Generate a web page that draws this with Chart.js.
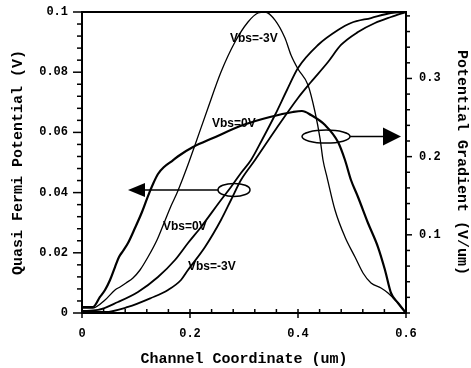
<!DOCTYPE html>
<html>
<head>
<meta charset="utf-8">
<script src="https://cdn.jsdelivr.net/npm/chart.js@4/dist/chart.umd.min.js"></script>
<style>
  html, body { margin: 0; padding: 0; background: #fff; }
  #c { display: block; }
</style>
</head>
<body>
<canvas id="c" width="471" height="368"></canvas>
<script>
// ---------- DATA ----------
// Potential gradient (V/um), right axis
const gradVbs0X  = [0, 0.0204, 0.0333, 0.0426, 0.0519, 0.0611, 0.0685, 0.0759, 0.0852, 0.0981, 0.1111, 0.1222, 0.1315, 0.1407, 0.1519, 0.1667, 0.1815, 0.2056, 0.2426, 0.2981, 0.3481, 0.3907, 0.4074, 0.4241, 0.45, 0.4741, 0.487, 0.4981, 0.5111, 0.5296, 0.5481, 0.5611, 0.5722, 0.5852, 0.6];
const gradVbs0Y  = [0.0077, 0.0077, 0.0205, 0.0294, 0.0422, 0.0588, 0.0716, 0.0793, 0.0895, 0.1087, 0.1292, 0.1496, 0.165, 0.1778, 0.1867, 0.1944, 0.2021, 0.2123, 0.2238, 0.2404, 0.2507, 0.2571, 0.2584, 0.2532, 0.2404, 0.2187, 0.1957, 0.1701, 0.1484, 0.1151, 0.0844, 0.055, 0.0256, 0.0128, 0];

const gradVbsM3X = [0, 0.0204, 0.0426, 0.0611, 0.0704, 0.0815, 0.0944, 0.1074, 0.1222, 0.1389, 0.1519, 0.1648, 0.1759, 0.187, 0.1981, 0.2093, 0.2333, 0.2574, 0.2833, 0.3074, 0.3259, 0.3389, 0.3574, 0.3759, 0.387, 0.4, 0.4185, 0.4315, 0.4407, 0.4463, 0.4537, 0.4685, 0.487, 0.5056, 0.5204, 0.5352, 0.5537, 0.5667, 0.5852, 0.6];
const gradVbsM3Y = [0.0064, 0.0064, 0.0166, 0.0294, 0.0333, 0.0384, 0.0448, 0.055, 0.0716, 0.0934, 0.1151, 0.1369, 0.1535, 0.1727, 0.1931, 0.2149, 0.2622, 0.3082, 0.3466, 0.3722, 0.3837, 0.385, 0.3747, 0.3517, 0.33, 0.3121, 0.2916, 0.2571, 0.2238, 0.1957, 0.1739, 0.1317, 0.0972, 0.0716, 0.0512, 0.0384, 0.032, 0.0256, 0.0128, 0];

// Quasi Fermi potential (V), left axis
const qfVbs0X  = [0, 0.0296, 0.0667, 0.1037, 0.1407, 0.1722, 0.1963, 0.2204, 0.2574, 0.2759, 0.2944, 0.313, 0.3333, 0.3574, 0.3796, 0.4, 0.437, 0.4741, 0.4981, 0.5352, 0.5722, 0.6];
const qfVbs0Y  = [0.00066, 0.001, 0.00365, 0.00698, 0.01196, 0.01761, 0.02326, 0.02857, 0.03754, 0.04186, 0.04651, 0.05083, 0.05748, 0.06578, 0.07409, 0.0814, 0.08904, 0.09402, 0.09635, 0.098, 0.09967, 0.1];

const qfVbsM3X = [0, 0.0426, 0.0852, 0.1278, 0.1593, 0.1833, 0.1963, 0.2278, 0.2574, 0.2759, 0.2944, 0.3204, 0.3593, 0.4, 0.4241, 0.4556, 0.4796, 0.5111, 0.5426, 0.5722, 0.6];
const qfVbsM3Y = [0.00033, 0.00033, 0.002, 0.00498, 0.00764, 0.01096, 0.01429, 0.02193, 0.0309, 0.03754, 0.04419, 0.05083, 0.06113, 0.07143, 0.07674, 0.08339, 0.08904, 0.09336, 0.09635, 0.09834, 0.1];

// Tick labels
const xMajorVals  = [0, 0.2, 0.4, 0.6];
const xMajorLabels = ['0', '0.2', '0.4', '0.6'];
const yLMajorVals  = [0, 0.02, 0.04, 0.06, 0.08, 0.1];
const yLMajorLabels = ['0', '0.02', '0.04', '0.06', '0.08', '0.1'];
const yRMajorVals  = [0.1, 0.2, 0.3];
const yRMajorLabels = ['0.1', '0.2', '0.3'];

// Axis titles
const xTitle = 'Channel Coordinate (um)';
const yLTitle = 'Quasi Fermi Potential (V)';
const yRTitle = 'Potential Gradient (V/um)';

// Curve labels (anchor in x um / left-axis V)
const curveLabels = [
  { text: 'Vbs=-3V', x: 0.2741, y: 0.091 },
  { text: 'Vbs=0V',  x: 0.2407, y: 0.0628 },
  { text: 'Vbs=0V',  x: 0.150,  y: 0.0286 },
  { text: 'Vbs=-3V', x: 0.1963, y: 0.0153 }
];

// ---------- helpers ----------
function pts(xs, ys) { return xs.map((x, i) => ({ x: x, y: ys[i] })); }
function minorVals(max, step) {
  const out = [];
  for (let i = 0; i * step <= max + 1e-9; i++) out.push(Math.round(i * step * 1e6) / 1e6);
  return out;
}
function labelFor(v, vals, labels) {
  for (let i = 0; i < vals.length; i++) if (Math.abs(v - vals[i]) < 1e-7) return labels[i];
  return '';
}

const X_MAX = 0.6, YL_MAX = 0.1, YR_MAX = 0.385;
const xTicks  = minorVals(X_MAX, 0.04);
const yLTicks = minorVals(YL_MAX, 0.004);
const yRTicks = minorVals(0.38, 0.02);

const monoFont = { family: '"Liberation Mono", "DejaVu Sans Mono", monospace', size: 12, weight: 'bold' };
const titleFont = { family: '"Liberation Mono", "DejaVu Sans Mono", monospace', size: 15, weight: 'bold' };
const hiddenGrid = (len) => ({ display: true, drawOnChartArea: false, drawTicks: true, tickLength: len, tickColor: 'rgba(0,0,0,0)' });

const decor = {
  id: 'decor',
  afterDatasetsDraw(chart) {
    const { ctx, chartArea: a, scales } = chart;
    const sx = scales.x, sy = scales.y, sr = scales.y1;
    const line = (x1, y1, x2, y2) => { ctx.beginPath(); ctx.moveTo(x1, y1); ctx.lineTo(x2, y2); ctx.stroke(); };
    ctx.save();
    ctx.strokeStyle = '#000';
    ctx.fillStyle = '#000';
    ctx.lineWidth = 2;
    ctx.strokeRect(a.left, a.top, a.right - a.left, a.bottom - a.top);
    ctx.lineWidth = 1.5;
    sy.ticks.forEach(t => { const p = sy.getPixelForValue(t.value); const L = t.label ? 9 : 5; line(a.left - L, p, a.left, p); });
    sr.ticks.forEach(t => { const p = sr.getPixelForValue(t.value); const L = t.label ? 6 : 4; line(a.right, p, a.right + L, p); });
    sx.ticks.forEach(t => { const p = sx.getPixelForValue(t.value);
      if (t.label) line(p, a.bottom - 4, p, a.bottom + 5); else line(p, a.bottom - 4, p, a.bottom); });

    // ellipses + arrows
    const Lx = sx.getPixelForValue(0.2815), Ly = sy.getPixelForValue(0.0409);
    ctx.lineWidth = 1.5;
    ctx.beginPath(); ctx.ellipse(Lx, Ly, 16, 6.5, 0, 0, Math.PI * 2); ctx.stroke();
    const Ltip = sx.getPixelForValue(0.0852);
    line(Lx - 16, Ly, Ltip + 16, Ly);
    ctx.beginPath(); ctx.moveTo(Ltip, Ly); ctx.lineTo(Ltip + 17, Ly - 7); ctx.lineTo(Ltip + 17, Ly + 7); ctx.closePath(); ctx.fill();

    const Rx = sx.getPixelForValue(0.4519), Ry = sy.getPixelForValue(0.0586);
    ctx.beginPath(); ctx.ellipse(Rx, Ry, 24, 6.5, 0, 0, Math.PI * 2); ctx.stroke();
    const Rtip = sx.getPixelForValue(0.5907);
    line(Rx + 24, Ry, Rtip - 16, Ry);
    ctx.beginPath(); ctx.moveTo(Rtip, Ry); ctx.lineTo(Rtip - 18, Ry - 9); ctx.lineTo(Rtip - 18, Ry + 9); ctx.closePath(); ctx.fill();

    // curve labels
    ctx.font = 'bold 12px "Liberation Sans", Arial, sans-serif';
    ctx.textAlign = 'left';
    ctx.textBaseline = 'middle';
    curveLabels.forEach(l => ctx.fillText(l.text, sx.getPixelForValue(l.x), sy.getPixelForValue(l.y)));
    ctx.restore();
  }
};

const common = { borderColor: '#000', pointRadius: 0, fill: false, tension: 0.4, cubicInterpolationMode: 'monotone' };

new Chart(document.getElementById('c'), {
  type: 'line',
  data: {
    datasets: [
      Object.assign({ label: 'Gradient Vbs=0V', data: pts(gradVbs0X, gradVbs0Y), yAxisID: 'y1', borderWidth: 2.2 }, common),
      Object.assign({ label: 'Gradient Vbs=-3V', data: pts(gradVbsM3X, gradVbsM3Y), yAxisID: 'y1', borderWidth: 1.3 }, common),
      Object.assign({ label: 'QF Vbs=0V', data: pts(qfVbs0X, qfVbs0Y), yAxisID: 'y', borderWidth: 1.8 }, common),
      Object.assign({ label: 'QF Vbs=-3V', data: pts(qfVbsM3X, qfVbsM3Y), yAxisID: 'y', borderWidth: 1.8 }, common)
    ]
  },
  options: {
    responsive: false,
    animation: false,
    devicePixelRatio: 1,
    layout: { padding: { top: 12, left: 0, right: 0, bottom: 0 } },
    plugins: { legend: { display: false }, tooltip: { enabled: false } },
    scales: {
      x: {
        type: 'linear', min: 0, max: X_MAX,
        grid: hiddenGrid(14), border: { display: false },
        afterBuildTicks: s => { s.ticks = xTicks.map(v => ({ value: v })); },
        afterFit: s => { s.height = 55; },
        ticks: { autoSkip: false, maxRotation: 0, padding: 0, color: '#000', font: monoFont,
                 callback: v => labelFor(v, xMajorVals, xMajorLabels) },
        title: { display: true, text: xTitle, color: '#000', font: titleFont, padding: { top: 2, bottom: 0 } }
      },
      y: {
        type: 'linear', position: 'left', min: 0, max: YL_MAX,
        grid: hiddenGrid(14), border: { display: false },
        afterBuildTicks: s => { s.ticks = yLTicks.map(v => ({ value: v })); },
        afterFit: s => { s.width = 82; },
        ticks: { autoSkip: false, padding: 0, color: '#000', font: monoFont,
                 callback: v => labelFor(v, yLMajorVals, yLMajorLabels) },
        title: { display: true, text: yLTitle, color: '#000', font: titleFont, padding: { top: 9, bottom: 0 } }
      },
      y1: {
        type: 'linear', position: 'right', min: 0, max: YR_MAX,
        grid: hiddenGrid(13), border: { display: false },
        afterBuildTicks: s => { s.ticks = yRTicks.map(v => ({ value: v })); },
        afterFit: s => { s.width = 65; },
        ticks: { autoSkip: false, padding: 0, color: '#000', font: monoFont,
                 callback: v => labelFor(v, yRMajorVals, yRMajorLabels) },
        title: { display: true, text: yRTitle, color: '#000', font: titleFont, padding: { top: 0, bottom: 0 } }
      }
    }
  },
  plugins: [decor]
});
</script>
</body>
</html>
